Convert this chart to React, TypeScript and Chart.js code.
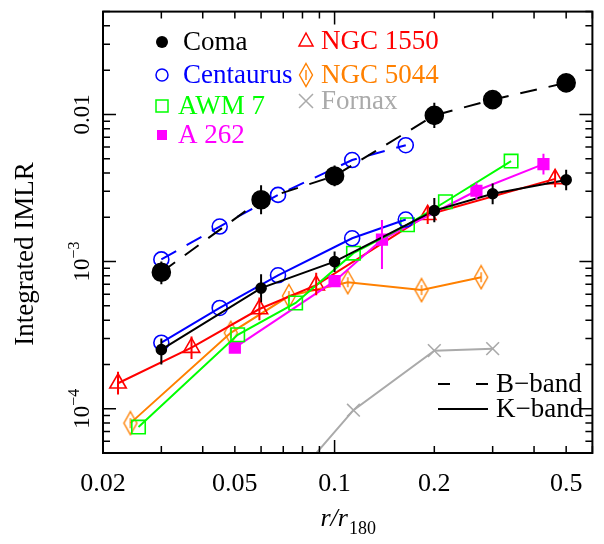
import React, { useEffect, useRef } from 'react';
import { Chart, registerables } from 'chart.js';

Chart.register(...registerables);

const SERIF = '"Liberation Serif", "Times New Roman", serif';

// ---- data ----
const comaR = [0.03, 0.06, 0.1, 0.2, 0.3, 0.5];
const comaB = [8.46e-4, 2.63e-3, 3.82e-3, 9.85e-3, 0.0126, 0.0164];
const comaBLo = [7.0e-4, 2.1e-3, 3.25e-3, 8.1e-3, 0.011, 0.0145];
const comaBHi = [1.0e-3, 3.3e-3, 4.5e-3, 1.2e-2, 0.0145, 0.0188];
const comaK = [2.52e-4, 6.6e-4, 1.0e-3, 2.22e-3, 2.89e-3, 3.59e-3];
const comaKLo = [2.0e-4, 5.3e-4, 8.5e-4, 1.85e-3, 2.45e-3, 3.05e-3];
const comaKHi = [3.0e-4, 8.2e-4, 1.17e-3, 2.7e-3, 3.4e-3, 4.2e-3];

const centR = [0.03, 0.045, 0.0675, 0.113, 0.164];
const centB = [1.035e-3, 1.73e-3, 2.84e-3, 4.9e-3, 6.18e-3];
const centK = [2.81e-4, 4.84e-4, 8.07e-4, 1.44e-3, 1.93e-3];

const awmR = [0.0256, 0.051, 0.0763, 0.114, 0.166, 0.216, 0.341];
const awmK = [7.5e-5, 3.18e-4, 5.23e-4, 1.14e-3, 1.78e-3, 2.55e-3, 4.82e-3];

const a262R = [0.05, 0.1, 0.139, 0.268, 0.427];
const a262K = [2.6e-4, 7.36e-4, 1.41e-3, 3.03e-3, 4.6e-3];
const a262Lo = [2.45e-4, 7.0e-4, 8.9e-4, 2.65e-3, 3.9e-3];
const a262Hi = [2.75e-4, 7.7e-4, 1.92e-3, 3.45e-3, 5.4e-3];

const n1550R = [0.0222, 0.037, 0.0593, 0.088, 0.191, 0.463];
const n1550K = [1.49e-4, 2.6e-4, 4.76e-4, 6.92e-4, 2.08e-3, 3.65e-3];
const n1550Lo = [1.25e-4, 2.18e-4, 4.0e-4, 5.9e-4, 1.8e-3, 3.2e-3];
const n1550Hi = [1.78e-4, 3.1e-4, 5.7e-4, 8.4e-4, 2.4e-3, 4.2e-3];

const n5044R = [0.0242, 0.0486, 0.0728, 0.1096, 0.183, 0.277];
const n5044K = [7.98e-5, 3.28e-4, 5.83e-4, 7.24e-4, 6.4e-4, 7.83e-4];

const fornaxR = [0.076, 0.114, 0.2, 0.3];
const fornaxK = [3.4e-5, 9.77e-5, 2.48e-4, 2.56e-4];

const xTicks = [0.02, 0.05, 0.1, 0.2, 0.5];
const xTickLabels = ['0.02', '0.05', '0.1', '0.2', '0.5'];
const yTicks = [0.01, 1e-3, 1e-4];
const yTickBase = ['0.01', '10', '10'];
const yTickSup = ['', '\u22123', '\u22124'];

const X_MIN = 0.02, X_MAX = 0.6, Y_MIN = 5e-5, Y_MAX = 0.05;

const BLACK = '#000000';
const BLUE = '#0000ff';
const GREEN = '#00ff00';
const MAGENTA = '#ff00ff';
const RED = '#ff0000';
const ORANGE = '#ff8000';
const GRAY = '#aaaaaa';

const pts = (xs: number[], ys: number[]) => xs.map((x, i) => ({ x, y: ys[i] }));

function makeDiamond(color: string) {
  const c = document.createElement('canvas');
  c.width = 16; c.height = 26;
  const g = c.getContext('2d')!;
  g.strokeStyle = color; g.lineWidth = 1.4;
  g.beginPath();
  g.moveTo(8, 1.5); g.lineTo(14.5, 13); g.lineTo(8, 24.5); g.lineTo(1.5, 13); g.closePath();
  g.stroke();
  g.beginPath(); g.moveTo(8, 8); g.lineTo(8, 18); g.stroke();
  return c;
}

const errorBarPlugin = {
  id: 'errbars',
  afterDatasetsDraw(chart: any) {
    const ctx = chart.ctx;
    const ys = chart.scales.y;
    const a = chart.chartArea;
    ctx.save();
    ctx.beginPath(); ctx.rect(a.left, a.top, a.right - a.left, a.bottom - a.top); ctx.clip();
    chart.data.datasets.forEach((ds: any, i: number) => {
      if (!ds.errLo) return;
      const meta = chart.getDatasetMeta(i);
      ctx.strokeStyle = ds.borderColor; ctx.lineWidth = 2;
      meta.data.forEach((p: any, j: number) => {
        ctx.beginPath();
        ctx.moveTo(p.x, ys.getPixelForValue(ds.errLo[j]));
        ctx.lineTo(p.x, ys.getPixelForValue(ds.errHi[j]));
        ctx.stroke();
      });
    });
    ctx.restore();
  },
};

function drawMarker(ctx: CanvasRenderingContext2D, kind: string, x: number, y: number, color: string, diamond?: HTMLCanvasElement) {
  ctx.save();
  ctx.strokeStyle = color; ctx.fillStyle = color; ctx.lineWidth = 1.5;
  ctx.beginPath();
  if (kind === 'fcircle') { ctx.arc(x, y, 6, 0, Math.PI * 2); ctx.fill(); }
  else if (kind === 'ocircle') { ctx.arc(x, y, 6, 0, Math.PI * 2); ctx.stroke(); }
  else if (kind === 'osquare') { ctx.rect(x - 6, y - 6, 12, 12); ctx.stroke(); }
  else if (kind === 'fsquare') { ctx.rect(x - 5, y - 5, 10, 10); ctx.fill(); }
  else if (kind === 'triangle') { ctx.moveTo(x, y - 8); ctx.lineTo(x + 7, y + 5); ctx.lineTo(x - 7, y + 5); ctx.closePath(); ctx.stroke(); }
  else if (kind === 'diamond' && diamond) { ctx.drawImage(diamond, x - 8, y - 13); }
  else if (kind === 'cross') { ctx.moveTo(x - 7, y - 7); ctx.lineTo(x + 7, y + 7); ctx.moveTo(x + 7, y - 7); ctx.lineTo(x - 7, y + 7); ctx.stroke(); }
  ctx.restore();
}

export default function App() {
  const ref = useRef<HTMLCanvasElement>(null);
  useEffect(() => {
    const canvas = ref.current!;
    const diamond = makeDiamond(ORANGE);

    const decorPlugin = {
      id: 'decor',
      afterDraw(chart: any) {
        const ctx: CanvasRenderingContext2D = chart.ctx;
        const a = chart.chartArea;
        const xs = chart.scales.x;
        const ys = chart.scales.y;
        ctx.save();
        // frame
        ctx.strokeStyle = '#000'; ctx.lineWidth = 2;
        ctx.strokeRect(a.left, a.top, a.right - a.left, a.bottom - a.top);
        // x ticks (inward, top and bottom)
        ctx.lineWidth = 1.5;
        for (let d = 0.01; d < 1; d *= 10) {
          for (let m = 1; m < 10; m++) {
            const v = m * d;
            if (v < X_MIN - 1e-9 || v > X_MAX + 1e-9) continue;
            const px = xs.getPixelForValue(v);
            const len = m === 1 ? 13 : 7;
            ctx.beginPath();
            ctx.moveTo(px, a.bottom); ctx.lineTo(px, a.bottom - len);
            ctx.moveTo(px, a.top); ctx.lineTo(px, a.top + len);
            ctx.stroke();
          }
        }
        // y ticks (inward, left and right)
        for (let d = 1e-5; d < 1; d *= 10) {
          for (let m = 1; m < 10; m++) {
            const v = m * d;
            if (v < Y_MIN * 0.999 || v > Y_MAX * 1.001) continue;
            const py = ys.getPixelForValue(v);
            const len = m === 1 ? 13 : 7;
            ctx.beginPath();
            ctx.moveTo(a.left, py); ctx.lineTo(a.left + len, py);
            ctx.moveTo(a.right, py); ctx.lineTo(a.right - len, py);
            ctx.stroke();
          }
        }
        // y tick labels (rotated)
        ctx.fillStyle = '#000';
        ctx.textBaseline = 'alphabetic';
        ctx.textAlign = 'left';
        yTicks.forEach((v, i) => {
          const py = ys.getPixelForValue(v);
          ctx.save();
          ctx.translate(a.left - 14, py);
          ctx.rotate(-Math.PI / 2);
          ctx.font = `23px ${SERIF}`;
          const w1 = ctx.measureText(yTickBase[i]).width;
          ctx.font = `16px ${SERIF}`;
          const w2 = yTickSup[i] ? ctx.measureText(yTickSup[i]).width : 0;
          const start = -(w1 + w2) / 2;
          ctx.font = `23px ${SERIF}`;
          ctx.fillText(yTickBase[i], start, 0);
          if (yTickSup[i]) {
            ctx.font = `16px ${SERIF}`;
            ctx.fillText(yTickSup[i], start + w1, -10);
          }
          ctx.restore();
        });
        // y title
        ctx.save();
        ctx.translate(33, 254);
        ctx.rotate(-Math.PI / 2);
        ctx.font = `27px ${SERIF}`;
        ctx.textAlign = 'center';
        ctx.fillText('Integrated IMLR', 0, 0);
        ctx.restore();
        // x title r/r_180
        ctx.font = `italic 26px ${SERIF}`;
        ctx.textAlign = 'left';
        const t1 = 'r/r';
        const w1 = ctx.measureText(t1).width;
        ctx.font = `18px ${SERIF}`;
        const w2 = ctx.measureText('180').width;
        const sx = (a.left + a.right) / 2 - (w1 + w2) / 2;
        ctx.font = `italic 26px ${SERIF}`;
        ctx.fillText(t1, sx, 526);
        ctx.font = `18px ${SERIF}`;
        ctx.fillText('180', sx + w1 + 1, 534);

        // legend
        ctx.textBaseline = 'middle';
        ctx.font = `27px ${SERIF}`;
        const leg1 = [
          { kind: 'fcircle', color: BLACK, text: 'Coma', y: 42 },
          { kind: 'ocircle', color: BLUE, text: 'Centaurus', y: 75 },
          { kind: 'osquare', color: GREEN, text: 'AWM 7', y: 106 },
          { kind: 'fsquare', color: MAGENTA, text: 'A 262', y: 135 },
        ];
        leg1.forEach((e, i) => {
          drawMarker(ctx, e.kind, 162, e.y, e.color);
          ctx.fillStyle = e.color;
          ctx.fillText(e.text, i < 2 ? 183 : 178, e.y + 1);
        });
        const leg2 = [
          { kind: 'triangle', color: RED, text: 'NGC 1550', y: 41 },
          { kind: 'diamond', color: ORANGE, text: 'NGC 5044', y: 75 },
          { kind: 'cross', color: GRAY, text: 'Fornax', y: 101 },
        ];
        leg2.forEach((e) => {
          drawMarker(ctx, e.kind, 306, e.y, e.color, diamond);
          ctx.fillStyle = e.color;
          ctx.fillText(e.text, 321, e.y + 1);
        });
        // band key
        ctx.strokeStyle = '#000'; ctx.lineWidth = 2;
        ctx.beginPath();
        ctx.moveTo(438, 384); ctx.lineTo(450, 384);
        ctx.moveTo(476, 384); ctx.lineTo(488, 384);
        ctx.moveTo(438, 409); ctx.lineTo(488, 409);
        ctx.stroke();
        ctx.fillStyle = '#000';
        ctx.fillText('B\u2212band', 496, 385);
        ctx.fillText('K\u2212band', 496, 410);
        ctx.restore();
      },
    };

    const base = { showLine: true, fill: false, borderWidth: 2, pointBorderWidth: 1.6, pointHoverRadius: 0 };
    const chart = new Chart(canvas, {
      type: 'line',
      data: {
        datasets: [
          { ...base, label: 'Coma B', data: pts(comaR, comaB), borderColor: BLACK, backgroundColor: BLACK, borderDash: [17, 12],
            pointStyle: 'circle', pointRadius: 9, pointBackgroundColor: BLACK, errLo: comaBLo, errHi: comaBHi } as any,
          { ...base, label: 'Centaurus B', data: pts(centR, centB), borderColor: BLUE, borderDash: [17, 12],
            pointStyle: 'circle', pointRadius: 7.5, pointBackgroundColor: 'rgba(0,0,0,0)' },
          { ...base, label: 'Coma K', data: pts(comaR, comaK), borderColor: BLACK, backgroundColor: BLACK,
            pointStyle: 'circle', pointRadius: 5, pointBackgroundColor: BLACK, errLo: comaKLo, errHi: comaKHi } as any,
          { ...base, label: 'Centaurus K', data: pts(centR, centK), borderColor: BLUE,
            pointStyle: 'circle', pointRadius: 7.5, pointBackgroundColor: 'rgba(0,0,0,0)' },
          { ...base, label: 'AWM 7', data: pts(awmR, awmK), borderColor: GREEN,
            pointStyle: 'rect', pointRadius: 9.5, pointBackgroundColor: 'rgba(0,0,0,0)' },
          { ...base, label: 'A 262', data: pts(a262R, a262K), borderColor: MAGENTA,
            pointStyle: 'rect', pointRadius: 7.5, pointBackgroundColor: MAGENTA, errLo: a262Lo, errHi: a262Hi } as any,
          { ...base, label: 'NGC 1550', data: pts(n1550R, n1550K), borderColor: RED,
            pointStyle: 'triangle', pointRadius: 9.5, pointBackgroundColor: 'rgba(0,0,0,0)', errLo: n1550Lo, errHi: n1550Hi } as any,
          { ...base, label: 'NGC 5044', data: pts(n5044R, n5044K), borderColor: ORANGE,
            pointStyle: diamond, pointRadius: 10 },
          { ...base, label: 'Fornax', data: pts(fornaxR, fornaxK), borderColor: GRAY,
            pointStyle: 'crossRot', pointRadius: 9, pointBorderWidth: 1.6 },
        ],
      },
      options: {
        animation: false,
        responsive: false,
        devicePixelRatio: 1,
        events: [],
        layout: { padding: { left: 0, right: 4, top: 8, bottom: 0 } },
        plugins: { legend: { display: false }, tooltip: { enabled: false }, title: { display: false } },
        scales: {
          x: {
            type: 'logarithmic', min: X_MIN, max: X_MAX,
            grid: { display: false, drawTicks: false },
            border: { display: false },
            afterBuildTicks: (s: any) => { s.ticks = xTicks.map((v) => ({ value: v })); },
            afterFit: (s: any) => { s.height = 91; },
            ticks: {
              autoSkip: false, maxRotation: 0, minRotation: 0, padding: 16, color: '#000',
              font: { family: SERIF, size: 26 },
              callback: (_v: any, i: number) => xTickLabels[i],
            },
          },
          y: {
            type: 'logarithmic', min: Y_MIN, max: Y_MAX,
            grid: { display: false, drawTicks: false },
            border: { display: false },
            ticks: { display: false },
            afterFit: (s: any) => { s.width = 103; },
          },
        },
      } as any,
      plugins: [errorBarPlugin, decorPlugin],
    });
    return () => chart.destroy();
  }, []);

  return (
    <div style={{ position: 'fixed', left: 0, top: 0, width: 604, height: 544, background: '#fff' }}>
      <canvas ref={ref} width={604} height={544} style={{ width: 604, height: 544, display: 'block' }} />
    </div>
  );
}
